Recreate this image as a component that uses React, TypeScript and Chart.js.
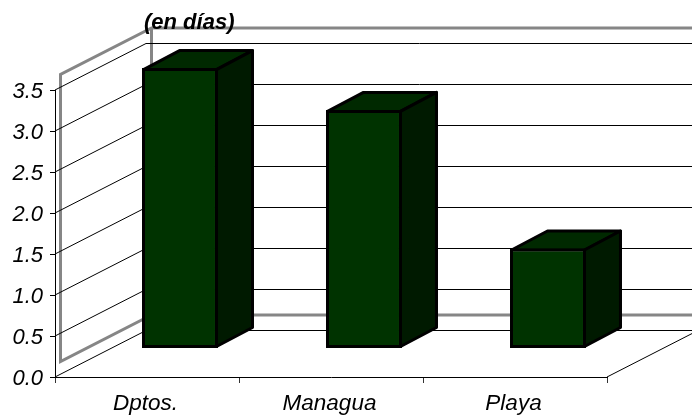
import React, { useEffect, useRef } from "react";
import { Chart, registerables } from "chart.js";

Chart.register(...registerables);

const categories = ["Dptos.", "Managua", "Playa"];
const values = [3.42, 2.91, 1.22];
const axisMin = 0;
const axisMax = 3.5;
const axisStep = 0.5;
const unitTitle = "(en días)";

const FONT = '"Liberation Sans", Arial, sans-serif';
const WALL_DX = 91;
const WALL_DY = 46.5;
const PANEL_DX = 5.5;
const PANEL_DY = 15.5;
const BAR_SHIFT_X = 33;
const BAR_SHIFT_Y = 28.5;
const BAR_DX = 36;
const BAR_DY = 19;
const BAR_LINE = 3;

const wallPlugin = {
  id: "wall3d",
  beforeDatasetsDraw(chart: any) {
    const { ctx, scales } = chart;
    const yS = scales.y;
    const xS = scales.x;
    const left = xS.left;
    const right = xS.right;
    const y0 = yS.getPixelForValue(axisMin);
    const yTop = yS.getPixelForValue(axisMax);
    ctx.save();
    // offset grey panel
    ctx.strokeStyle = "#868686";
    ctx.lineWidth = 3;
    ctx.lineJoin = "miter";
    const px = left + PANEL_DX;
    const pb = y0 - PANEL_DY;
    const pt = yTop - PANEL_DY;
    ctx.beginPath();
    ctx.moveTo(700, pb - WALL_DY);
    ctx.lineTo(px + WALL_DX, pb - WALL_DY);
    ctx.lineTo(px, pb);
    ctx.lineTo(px, pt);
    ctx.lineTo(px + WALL_DX, pt - WALL_DY);
    ctx.lineTo(700, pt - WALL_DY);
    ctx.moveTo(px + WALL_DX, pt - WALL_DY);
    ctx.lineTo(px + WALL_DX, pb - WALL_DY);
    ctx.stroke();
    // grid lines on the side wall and back wall
    ctx.strokeStyle = "#000";
    ctx.lineWidth = 1;
    yS.ticks.forEach((t: any) => {
      const y = yS.getPixelForValue(t.value);
      ctx.beginPath();
      ctx.moveTo(left, y);
      ctx.lineTo(left + WALL_DX, y - WALL_DY);
      ctx.lineTo(right + WALL_DX, y - WALL_DY);
      ctx.stroke();
    });
    // right edge of the floor
    ctx.beginPath();
    ctx.moveTo(right, y0);
    ctx.lineTo(right + WALL_DX, y0 - WALL_DY);
    ctx.stroke();
    ctx.restore();
  },
  beforeDatasetDraw(chart: any, args: any) {
    const { ctx } = chart;
    ctx.save();
    ctx.translate(BAR_SHIFT_X, -BAR_SHIFT_Y);
    args.meta.data.forEach((el: any) => {
      const inset = BAR_LINE / 2;
      const l = el.x - el.width / 2 + inset;
      const r = el.x + el.width / 2 - inset;
      const t = el.y + inset;
      const b = el.base - inset;
      ctx.lineWidth = BAR_LINE;
      ctx.strokeStyle = "#000";
      ctx.lineJoin = "round";
      ctx.fillStyle = "#002900";
      ctx.beginPath();
      ctx.moveTo(l, t);
      ctx.lineTo(l + BAR_DX, t - BAR_DY);
      ctx.lineTo(r + BAR_DX, t - BAR_DY);
      ctx.lineTo(r, t);
      ctx.closePath();
      ctx.fill();
      ctx.stroke();
      ctx.fillStyle = "#001a00";
      ctx.beginPath();
      ctx.moveTo(r, t);
      ctx.lineTo(r + BAR_DX, t - BAR_DY);
      ctx.lineTo(r + BAR_DX, b - BAR_DY);
      ctx.lineTo(r, b);
      ctx.closePath();
      ctx.fill();
      ctx.stroke();
    });
  },
  afterDatasetDraw(chart: any) {
    chart.ctx.restore();
  },
  afterDraw(chart: any) {
    const { ctx } = chart;
    ctx.save();
    ctx.font = `italic bold 22px ${FONT}`;
    ctx.fillStyle = "#000";
    ctx.textAlign = "left";
    ctx.textBaseline = "alphabetic";
    ctx.fillText(unitTitle, 144, 29);
    ctx.restore();
  },
};

export default function App() {
  const ref = useRef<HTMLCanvasElement | null>(null);
  useEffect(() => {
    const chart = new Chart(ref.current as HTMLCanvasElement, {
      type: "bar",
      data: {
        labels: categories,
        datasets: [
          {
            data: values,
            backgroundColor: "#003300",
            borderColor: "#000",
            borderWidth: BAR_LINE,
            borderSkipped: false,
            barPercentage: 0.413,
            categoryPercentage: 1,
            clip: false,
          } as any,
        ],
      },
      options: {
        animation: false,
        responsive: false,
        events: [],
        layout: { padding: { top: 90, right: 85, left: 0, bottom: 0 } },
        plugins: { legend: { display: false }, tooltip: { enabled: false }, title: { display: false } },
        scales: {
          x: {
            afterFit: (s: any) => { s.height = 39; },
            grid: { offset: true, drawOnChartArea: false, tickLength: 6, color: "#333" },
            border: { color: "#000", width: 1 },
            ticks: { color: "#000", font: { family: FONT, size: 22.5, style: "italic" }, padding: 7, labelOffset: -1.5, maxRotation: 0 },
          },
          y: {
            min: axisMin,
            max: axisMax,
            afterFit: (s: any) => { s.width = 55; },
            grid: { drawOnChartArea: false, tickLength: 5, color: "#000" },
            border: { color: "#000", width: 1 },
            ticks: {
              stepSize: axisStep,
              color: "#000",
              padding: 7,
              labelOffset: 1.5,
              font: { family: FONT, size: 22, style: "italic" },
              callback: (v: any) => Number(v).toFixed(1),
            },
          },
        },
      },
      plugins: [wallPlugin],
    } as any);
    return () => chart.destroy();
  }, []);
  return (
    <canvas
      ref={ref}
      width={692}
      height={416}
      style={{ position: "absolute", left: 0, top: 0, display: "block", width: 692, height: 416 }}
    />
  );
}
